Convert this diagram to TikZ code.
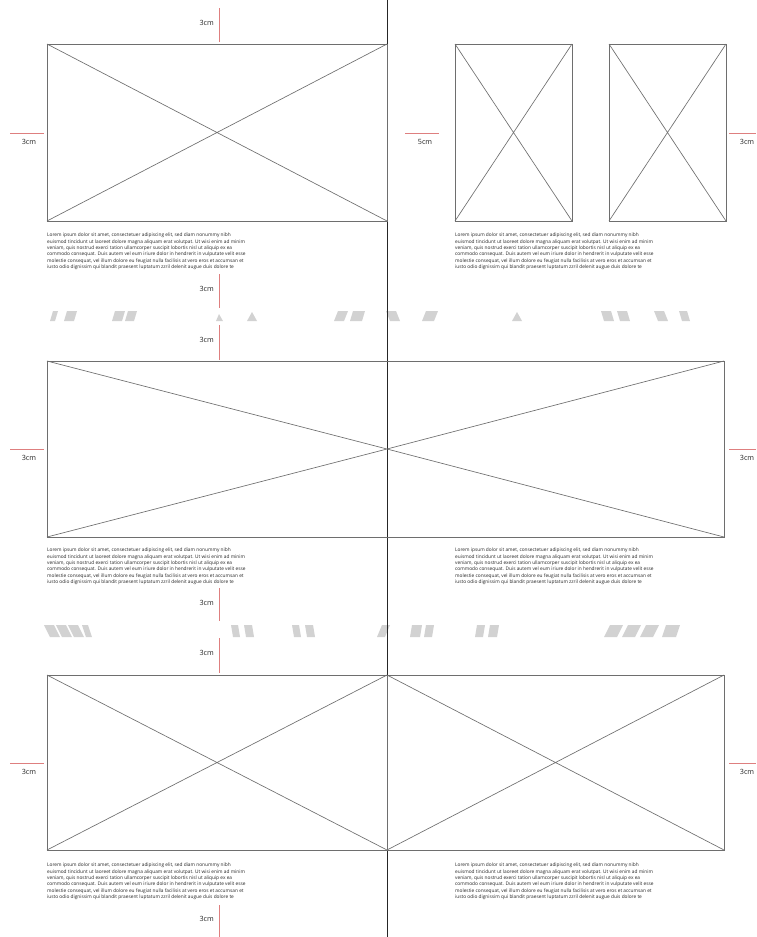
\documentclass[tikz,border=0pt]{standalone}
\usepackage{fontspec}
\setmainfont{Open Sans}
\definecolor{tickred}{HTML}{DE7F7F}
\definecolor{boxgray}{HTML}{6E6E6E}
\definecolor{stripegray}{HTML}{D2D2D2}
\definecolor{txtgray}{HTML}{262626}
\newcommand\myloremtext{Lorem ipsum dolor sit amet, consectetuer adipiscing elit, sed diam nonummy nibh\\
euismod tincidunt ut laoreet dolore magna aliquam erat volutpat. Ut wisi enim ad minim\\
veniam, quis nostrud exerci tation ullamcorper suscipit lobortis nisl ut aliquip ex ea\\
commodo consequat. Duis autem vel eum iriure dolor in hendrerit in vulputate velit esse\\
molestie consequat, vel illum dolore eu feugiat nulla facilisis at vero eros et accumsan et\\
iusto odio dignissim qui blandit praesent luptatum zzril delenit augue duis dolore te}
\newcommand\mystripe[5]{\fill[stripegray] (#1,#5) -- (#2,#5) -- ({#2+#3},#4) -- ({#1+#3},#4) -- cycle;}
\begin{document}
\begin{tikzpicture}[x=1pt,y=-1pt,
  frame/.style={draw=boxgray,line width=0.8pt},
  diag/.style={draw=boxgray,line width=0.65pt},
  tick/.style={draw=tickred,line width=0.8pt},
  dimlabel/.style={font=\fontsize{7.2}{8}\selectfont,text=txtgray,inner sep=0pt},
  lorem/.style={font=\fontsize{4.8}{6.3}\selectfont,text=txtgray,align=left,inner sep=0pt,anchor=north west}]
\useasboundingbox (0,0) rectangle (756,937);
\fill[white] (0,0) rectangle (756,937);

% ---------- gray stripes ----------
\mystripe{50}{55}{3}{311}{321}
\mystripe{64}{74}{3}{311}{321}
\mystripe{112}{122}{3}{311}{321}
\mystripe{125}{134}{3}{311}{321}
\fill[stripegray] (216,321) -- (219,314) -- (223,321) -- cycle;
\fill[stripegray] (247,321) -- (252,312) -- (257,321) -- cycle;
\mystripe{334}{344}{4}{311}{321}
\mystripe{350}{362}{3}{311}{321}
\mystripe{390}{400}{-4}{311}{321}
\mystripe{422}{434}{4}{311}{321}
\fill[stripegray] (512,321) -- (517,312) -- (522,321) -- cycle;
\mystripe{604}{614}{-3}{311}{321}
\mystripe{620}{630}{-3}{311}{321}
\mystripe{658}{668}{-4}{311}{321}
\mystripe{682}{690}{-3}{311}{321}
%
\mystripe{50}{60}{-6}{625}{637}
\mystripe{62}{72}{-6}{625}{637}
\mystripe{74}{84}{-6}{625}{637}
\mystripe{86}{92}{-4}{625}{637}
\mystripe{233}{240}{-2}{625}{637}
\mystripe{246}{254}{-2}{625}{637}
\mystripe{294}{301}{-2}{625}{637}
\mystripe{307}{315}{-2}{625}{637}
\mystripe{377}{385}{5}{625}{637}
\mystripe{410}{420}{2}{625}{637}
\mystripe{424}{432}{2}{625}{637}
\mystripe{475}{483}{2}{625}{637}
\mystripe{488}{497}{2}{625}{637}
\mystripe{604}{617}{6}{625}{637}
\mystripe{622}{635}{6}{625}{637}
\mystripe{640}{653}{6}{625}{637}
\mystripe{662}{676}{4}{625}{637}

% ---------- central rule ----------
\coordinate (ctop) at (387,0);
\coordinate (cbot) at (387,937);
\draw[black!85,line width=0.9pt] (ctop) -- (cbot);

% ---------- panel 1 ----------
\coordinate (a1) at (47,44); \coordinate (a2) at (387,221);
\draw[frame] (a1) rectangle (a2);
\draw[diag] (a1) -- (a2) (a1 |- a2) -- (a2 |- a1);
\coordinate (b1) at (455,44); \coordinate (b2) at (572,221);
\draw[frame] (b1) rectangle (b2);
\draw[diag] (b1) -- (b2) (b1 |- b2) -- (b2 |- b1);
\coordinate (c1) at (609,44); \coordinate (c2) at (726,221);
\draw[frame] (c1) rectangle (c2);
\draw[diag] (c1) -- (c2) (c1 |- c2) -- (c2 |- c1);

\coordinate (t1a) at (219,8); \coordinate (t1b) at (219,42);
\draw[tick] (t1a) -- (t1b);
\node[dimlabel,anchor=east] (l1t) at (214,23) {3cm};
\coordinate (s1a) at (10,133); \coordinate (s1b) at (44,133);
\draw[tick] (s1a) -- (s1b);
\node[dimlabel] (l1l) at (29,142) {3cm};
\coordinate (s1c) at (405,133); \coordinate (s1d) at (439,133);
\draw[tick] (s1c) -- (s1d);
\node[dimlabel] (l1m) at (425,142) {5cm};
\coordinate (s1e) at (729,133); \coordinate (s1f) at (756,133);
\draw[tick] (s1e) -- (s1f);
\node[dimlabel] (l1r) at (747,142) {3cm};
\node[lorem] (p1l) at (47,233) {\myloremtext};
\node[lorem] (p1r) at (455,233) {\myloremtext};
\coordinate (b1a) at (219,274); \coordinate (b1b) at (219,308);
\draw[tick] (b1a) -- (b1b);
\node[dimlabel,anchor=east] (l1b) at (214,289) {3cm};

% ---------- panel 2 ----------
\draw[tick] (219,325) coordinate (t2a) -- (219,360) coordinate (t2b);
\node[dimlabel,anchor=east] (l2t) at (214,340) {3cm};
\coordinate (d1) at (47,361); \coordinate (d2) at (724,537);
\coordinate (dm) at (387,449);
\draw[frame] (d1) rectangle (d2);
\draw[diag] (d1) -- (dm) -- (d2 |- d1) (d1 |- d2) -- (dm) -- (d2);
\draw[tick] (10,449) coordinate (s2a) -- (44,449) coordinate (s2b);
\node[dimlabel] (l2l) at (29,458) {3cm};
\draw[tick] (729,449) coordinate (s2c) -- (756,449) coordinate (s2d);
\node[dimlabel] (l2r) at (747,458) {3cm};
\node[lorem] (p2l) at (47,548) {\myloremtext};
\node[lorem] (p2r) at (455,548) {\myloremtext};
\draw[tick] (219,588) coordinate (b2a) -- (219,621) coordinate (b2b);
\node[dimlabel,anchor=east] (l2b) at (214,603) {3cm};

% ---------- panel 3 ----------
\draw[tick] (219,638) coordinate (t3a) -- (219,673) coordinate (t3b);
\node[dimlabel,anchor=east] (l3t) at (214,653) {3cm};
\coordinate (e1) at (47,675); \coordinate (e2) at (387,850);
\draw[frame] (e1) rectangle (e2);
\draw[diag] (e1) -- (e2) (e1 |- e2) -- (e2 |- e1);
\coordinate (f1) at (387,675); \coordinate (f2) at (724,850);
\draw[frame] (f1) rectangle (f2);
\draw[diag] (f1) -- (f2) (f1 |- f2) -- (f2 |- f1);
\draw[tick] (10,763) coordinate (s3a) -- (44,763) coordinate (s3b);
\node[dimlabel] (l3l) at (29,772) {3cm};
\draw[tick] (729,763) coordinate (s3c) -- (756,763) coordinate (s3d);
\node[dimlabel] (l3r) at (747,772) {3cm};
\node[lorem] (p3l) at (47,863) {\myloremtext};
\node[lorem] (p3r) at (455,863) {\myloremtext};
\draw[tick] (219,905) coordinate (b3a) -- (219,937) coordinate (b3b);
\node[dimlabel,anchor=east] (l3b) at (214,919) {3cm};
\end{tikzpicture}
\end{document}
